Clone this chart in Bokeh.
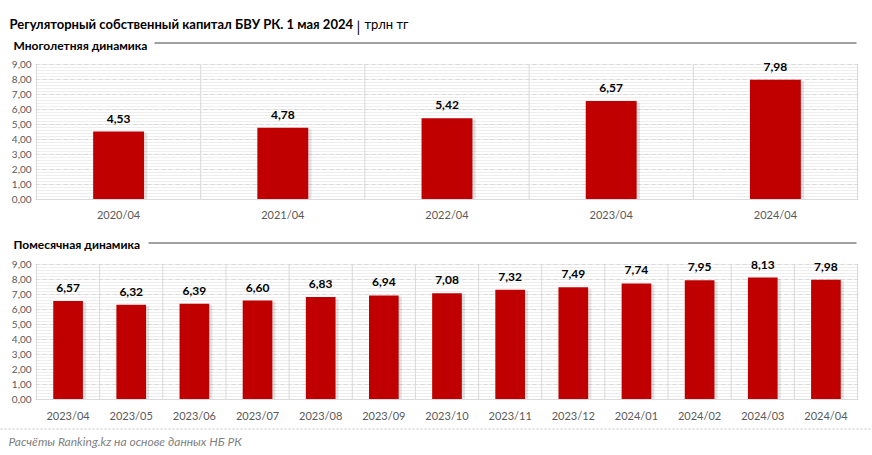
from bokeh.plotting import figure
from bokeh.layouts import column
from bokeh.models import (ColumnDataSource, Range1d, FixedTicker, SingleIntervalTicker,
                          CustomJSTickFormatter)
from bokeh.transform import dodge
from bokeh.core.properties import value
from bokeh.embed import file_html
from bokeh.resources import INLINE

# ---- data ----
title_main = "Регуляторный собственный капитал БВУ РК. 1 мая 2024"
title_sep = "|"
title_unit = "трлн тг"
sub_years = "Многолетняя динамика"
sub_months = "Помесячная динамика"
source_note = "Расчёты Ranking.kz на основе данных НБ РК"

year_labels = ["2020/04", "2021/04", "2022/04", "2023/04", "2024/04"]
year_values = [4.53, 4.78, 5.42, 6.57, 7.98]

month_labels = ["2023/04", "2023/05", "2023/06", "2023/07", "2023/08", "2023/09", "2023/10",
                "2023/11", "2023/12", "2024/01", "2024/02", "2024/03", "2024/04"]
month_values = [6.57, 6.32, 6.39, 6.60, 6.83, 6.94, 7.08, 7.32, 7.49, 7.74, 7.95, 8.13, 7.98]

y_min, y_max = 0, 9          # value axis extent (ticks every 1,00)
y_headroom = 0.6             # room above the axis for the value labels

FONT = "Lato"
FV = value(FONT)
BAR = "#C00000"
GRID = "#d9d9d9"
AXTXT = "#595959"
W = 872
PLOT_W = 823                  # frame width in px (35 .. 858)


def blank(height):
    """A figure whose data units are pixels (y downward), used for headings."""
    p = figure(width=W, height=height, output_backend="svg", toolbar_location=None,
               x_range=Range1d(0, W), y_range=Range1d(height, 0),
               min_border=0, min_border_left=0, min_border_right=0,
               min_border_top=0, min_border_bottom=0)
    p.axis.visible = False
    p.grid.visible = False
    p.outline_line_color = None
    p.background_fill_color = "white"
    p.border_fill_color = "white"
    return p


def make_chart(labels, values, bar_width, height, top, bottom, shadow_dx, xstand):
    n = len(labels)
    xs = list(range(n))
    pad = n / (PLOT_W - 2)    # one pixel, in category units
    src = ColumnDataSource(dict(
        x=xs, top=values,
        stop=[v - 0.1 for v in values],
        txt=[f"{v:.2f}".replace(".", ",") for v in values],
    ))
    sep = ColumnDataSource(dict(b=[i - 0.5 for i in range(n + 1)]))
    p = figure(width=W, height=height, output_backend="svg", toolbar_location=None,
               x_range=Range1d(-0.5 - pad, n - 0.5 + pad),
               y_range=Range1d(y_min, y_max + y_headroom),
               min_border_left=35, min_border_right=W - 35 - PLOT_W,
               min_border_top=top, min_border_bottom=bottom)
    p.outline_line_color = None
    p.background_fill_color = "white"
    p.border_fill_color = "white"

    p.xaxis.ticker = FixedTicker(ticks=xs)
    p.xaxis.major_label_overrides = {i: lab for i, lab in enumerate(labels)}
    p.xaxis.major_label_text_font = FONT
    p.xaxis.major_label_text_font_size = "11px"
    p.xaxis.major_label_text_color = AXTXT
    p.xaxis.major_label_standoff = xstand
    p.xaxis.major_tick_out = 0
    p.xaxis.major_tick_in = 0
    p.xaxis.minor_tick_out = 0
    p.xaxis.minor_tick_in = 0
    p.xaxis.major_tick_line_color = None
    p.xaxis.minor_tick_line_color = None
    p.xaxis.axis_line_color = GRID

    p.yaxis.ticker = SingleIntervalTicker(interval=1, num_minor_ticks=5)
    p.yaxis.formatter = CustomJSTickFormatter(code="return tick.toFixed(2).replace('.', ',');")
    p.yaxis.major_label_text_font = FONT
    p.yaxis.major_label_text_font_size = "10px"
    p.yaxis.major_label_text_color = AXTXT
    p.yaxis.major_label_standoff = 4
    p.yaxis.major_tick_out = 0
    p.yaxis.major_tick_in = 0
    p.yaxis.minor_tick_out = 0
    p.yaxis.minor_tick_in = 0
    p.yaxis.major_tick_line_color = None
    p.yaxis.minor_tick_line_color = None
    p.yaxis.axis_line_color = None

    p.xgrid.visible = False
    p.ygrid.bounds = (y_min, y_max)
    p.ygrid.grid_line_color = GRID
    p.ygrid.grid_line_dash = "4 3"
    p.ygrid.minor_grid_line_color = "#eeeeee"

    # category separators (vertical grid) limited to the value axis extent
    p.segment(x0="b", x1="b", y0=y_min, y1=y_max, source=sep, line_color=GRID, line_width=1)

    p.vbar(x=dodge("x", shadow_dx, range=p.x_range), top="stop", width=bar_width, bottom=0,
           source=src, fill_color="#000000", fill_alpha=0.10, line_color=None)
    p.vbar(x="x", top="top", width=bar_width, bottom=0, source=src,
           fill_color=BAR, line_color=None)
    p.text(x="x", y="top", text="txt", source=src, text_align="center",
           text_baseline="middle", y_offset=-13, text_font_size="12px",
           text_font_style="bold", text_color="#000000", text_font=FV)
    return p


# header 1: title + first heading   (image y 0..54)
h1 = blank(54)
h1.text(x=[9], y=[23], text=[title_main], text_font=FV, text_font_size="13px",
        text_font_style="bold", text_color="#000000", text_baseline="alphabetic")
h1.text(x=[358], y=[25], text=[title_sep], text_font=FV, text_font_size="15px",
        text_color="#000000", text_baseline="alphabetic", text_align="center")
h1.text(x=[364], y=[23], text=[title_unit], text_font=FV, text_font_size="13px",
        text_color="#000000", text_baseline="alphabetic")
h1.text(x=[13], y=[44.5], text=[sub_years], text_font=FV, text_font_size="12px",
        text_font_style="bold", text_color="#000000", text_baseline="alphabetic")
h1.segment(x0=[154], y0=[42.5], x1=[856], y1=[42.5], line_color="#404040", line_width=1)

# chart 1 (image y 54..228): frame 55..199
c1 = make_chart(year_labels, year_values, 0.31, 174, 1, 29, 0.02, 8)

# header 2 (image y 228..254)
h2 = blank(26)
h2.text(x=[13], y=[16], text=[sub_months], text_font=FV, text_font_size="12px",
        text_font_style="bold", text_color="#000000", text_baseline="alphabetic")
h2.segment(x0=[148], y0=[14.5], x1=[856], y1=[14.5], line_color="#404040", line_width=1)

# chart 2 (image y 254..424): frame 255..399
c2 = make_chart(month_labels, month_values, 0.47, 170, 1, 25, 0.05, 9)

# footer (image y 424..455)
f = blank(31)
f.segment(x0=[0], y0=[4.5], x1=[W], y1=[4.5], line_color="#bfbfbf", line_width=1,
          line_dash="2 2")
f.text(x=[8], y=[17], text=[source_note], text_font=FV, text_font_size="12px",
       text_font_style="italic", text_color="#7f7f7f", text_baseline="middle")

layout = column(column(h1), c1, column(h2), c2, column(f), spacing=0)
open("out.html", "w").write(file_html(layout, INLINE))
